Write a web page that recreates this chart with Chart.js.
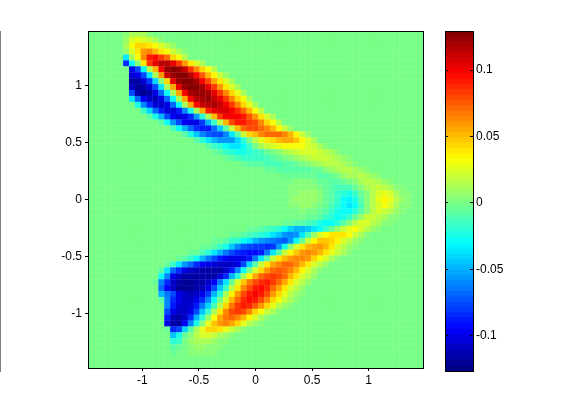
<!DOCTYPE html>
<html>
<head>
<meta charset="utf-8">
<title>heatmap</title>
<script src="https://cdn.jsdelivr.net/npm/chart.js@4/dist/chart.umd.min.js"></script>
<style>
html, body { margin: 0; background: #fff; }
canvas { position: absolute; left: 0; top: 0; }
</style>
</head>
<body>
<canvas id="mapChart" width="561" height="414"></canvas>
<canvas id="barChart" width="561" height="414"></canvas>
<script>
// tick labels
const axisTicks = [-1, -0.5, 0, 0.5, 1];
const colorTicks = [-0.1, -0.05, 0, 0.05, 0.1];

// value range of the colour bar
const colorMin = -0.1265;
const colorMax = 0.1295;

// grid
const gridSize = 57;
const axisEdge = 1.48;

// first filled column of each row, top row first
const rowStart = [6, 6, 6, 6, 6, 6, 7, 7, 7, 7, 7, 7, 8, 9, 10, 12, 14, 16, 18, 20, 21, 23, 26, 30, 33, 35, 34, 34, 34, 34, 35, 37, 32, 27, 24, 21, 19, 17, 15, 13, 12, 12, 11, 12, 12, 12, 13, 13, 13, 13, 13, 14, 14, 14, 14];

// cell values, in thousandths, everything else is 0
const rowValues = [
  [3, 10, 12, 10, 5],
  [8, 22, 28, 25, 20, 10, 4],
  [12, 30, 42, 45, 40, 32, 25, 15, 6],
  [8, 25, 40, 60, 65, 50, 40, 30, 20, 10, 3],
  [-35, 10, 30, 65, 90, 95, 85, 70, 45, 30, 15],
  [-85, -30, 5, 40, 85, 105, 115, 115, 105, 85, 60, 40, 25, 10],
  [-100, -75, -30, 15, 50, 100, 125, 128, 125, 110, 85, 65, 45, 30, 15],
  [-105, -100, -75, -35, 10, 60, 110, 125, 130, 128, 115, 95, 75, 50, 35, 20, 8],
  [-118, -118, -105, -80, -40, 5, 45, 105, 125, 130, 128, 118, 100, 80, 55, 40, 25, 10],
  [-110, -122, -118, -105, -75, -35, 10, 55, 105, 125, 130, 128, 118, 105, 85, 60, 40, 25, 10],
  [-75, -115, -120, -115, -100, -70, -30, 10, 55, 100, 120, 125, 125, 118, 105, 85, 65, 45, 28, 12],
  [-35, -70, -95, -110, -112, -100, -70, -30, 10, 55, 100, 115, 120, 122, 112, 105, 85, 65, 45, 30, 12],
  [-25, -60, -85, -105, -110, -100, -70, -30, 10, 55, 95, 110, 115, 118, 110, 100, 85, 65, 45, 28, 12],
  [-15, -40, -70, -90, -105, -105, -90, -60, -25, 10, 55, 90, 105, 108, 108, 100, 88, 70, 50, 32, 15],
  [-8, -25, -50, -75, -95, -105, -100, -85, -55, -20, 12, 50, 85, 98, 100, 100, 90, 75, 58, 40, 25, 10],
  [-10, -30, -55, -75, -95, -100, -100, -80, -50, -15, 15, 50, 78, 90, 92, 85, 78, 62, 45, 30, 15],
  [-12, -28, -50, -70, -85, -90, -88, -70, -45, -10, 20, 50, 70, 78, 78, 72, 65, 50, 35, 20, 8],
  [-10, -25, -45, -60, -72, -78, -75, -60, -35, -8, 20, 42, 50, 62, 70, 72, 70, 62, 50, 35, 20, 8],
  [-10, -20, -35, -48, -55, -58, -55, -42, -20, 0, 15, 28, 38, 45, 52, 55, 55, 48, 35, 25, 12],
  [-8, -15, -22, -30, -36, -38, -30, -15, 0, 10, 18, 22, 26, 30, 32, 32, 30, 25, 18, 10, 4],
  [-5, -10, -16, -22, -26, -25, -22, -18, -12, -6, 0, 5, 10, 14, 18, 22, 22, 22, 20, 16, 10, 5],
  [-5, -8, -12, -15, -16, -17, -16, -14, -10, -6, -2, 2, 6, 10, 14, 18, 19, 18, 15, 10, 6, 2],
  [-5, -7, -9, -10, -11, -12, -12, -10, -8, -6, -2, 2, 6, 10, 14, 16, 15, 12, 8, 4],
  [-4, -5, -7, -8, -9, -9, -9, -8, -6, -3, 2, 8, 12, 15, 15, 12, 8, 4],
  [-3, -4, -5, -6, -6, -6, -7, -7, -4, 0, 6, 10, 13, 15, 12, 8, 4],
  [2, 3, 2, 0, -3, -6, -8, -8, -6, -2, 4, 10, 14, 14, 12, 8, 4],
  [2, 4, 5, 5, 4, 1, -4, -9, -12, -13, -12, -6, 2, 10, 16, 18, 16, 10, 5, 2],
  [3, 5, 7, 8, 7, 3, -3, -9, -15, -22, -24, -18, -6, 5, 15, 24, 26, 22, 12, 5, 2],
  [3, 6, 8, 8, 6, 2, -3, -10, -18, -28, -32, -26, -10, 3, 14, 26, 35, 28, 14, 6, 2],
  [2, 4, 6, 6, 4, 0, -5, -12, -20, -30, -36, -28, -12, 3, 14, 24, 30, 24, 12, 5, 2],
  [1, 2, 1, -1, -5, -10, -16, -24, -30, -30, -22, -8, 5, 16, 22, 20, 14, 8, 3],
  [-3, -6, -10, -15, -22, -28, -26, -18, -4, 8, 18, 20, 16, 10, 5, 2],
  [-2, -3, -5, -7, -10, -13, -18, -24, -28, -28, -22, -10, 4, 16, 22, 22, 16, 10, 5, 2],
  [-3, -5, -8, -12, -15, -20, -28, -40, -48, -50, -46, -38, -30, -18, -4, 8, 18, 28, 30, 24, 15, 8, 3],
  [-3, -5, -8, -12, -18, -22, -25, -35, -45, -55, -62, -55, -35, -12, 8, 22, 32, 38, 40, 38, 30, 18, 10, 4],
  [-3, -6, -10, -15, -20, -28, -38, -48, -55, -60, -65, -70, -72, -58, -30, -5, 20, 35, 48, 48, 42, 35, 25, 15, 8, 3],
  [-3, -6, -10, -15, -25, -45, -60, -72, -78, -80, -82, -85, -80, -55, -25, 5, 25, 40, 50, 56, 58, 50, 38, 25, 15, 8, 3],
  [-3, -6, -12, -20, -35, -50, -65, -78, -85, -90, -92, -92, -88, -65, -35, -8, 18, 35, 48, 58, 62, 60, 52, 40, 28, 18, 10, 4],
  [-4, -10, -18, -30, -50, -65, -78, -88, -95, -100, -102, -100, -90, -65, -38, -10, 18, 38, 52, 60, 64, 64, 58, 45, 32, 22, 12, 5],
  [-5, -18, -35, -55, -70, -85, -95, -102, -105, -108, -108, -108, -100, -75, -40, -10, 18, 40, 55, 65, 70, 70, 65, 52, 38, 25, 15, 7],
  [-10, -35, -70, -85, -100, -110, -112, -115, -116, -116, -115, -110, -90, -60, -30, 0, 25, 45, 60, 72, 75, 72, 65, 50, 35, 22, 12, 5],
  [-30, -60, -100, -110, -116, -118, -118, -118, -118, -115, -105, -85, -50, -20, 10, 35, 55, 70, 80, 84, 80, 70, 52, 38, 25, 14, 6],
  [-5, -60, -85, -108, -118, -120, -120, -118, -116, -110, -95, -65, -35, -5, 25, 48, 68, 80, 88, 90, 85, 72, 55, 40, 25, 14, 6],
  [-70, -95, -110, -120, -122, -120, -118, -112, -100, -75, -45, -15, 15, 40, 62, 80, 90, 95, 88, 72, 55, 38, 25, 14, 6],
  [-50, -65, -75, -100, -110, -112, -110, -100, -80, -50, -20, 10, 35, 58, 78, 92, 98, 92, 78, 60, 42, 28, 16, 8, 3],
  [-10, -60, -85, -100, -108, -108, -100, -85, -60, -30, 0, 25, 50, 72, 88, 96, 92, 80, 62, 45, 30, 18, 10, 4],
  [-60, -90, -105, -108, -105, -90, -65, -40, -12, 15, 42, 68, 85, 92, 88, 75, 58, 42, 28, 16, 8, 3],
  [-75, -100, -110, -110, -100, -75, -45, -18, 10, 38, 62, 80, 85, 78, 62, 45, 30, 20, 10, 4],
  [-90, -112, -116, -108, -85, -50, -20, 8, 32, 55, 68, 72, 65, 50, 35, 22, 12, 5],
  [-100, -118, -115, -95, -60, -25, 5, 28, 48, 60, 62, 55, 42, 28, 16, 8, 3],
  [-3, -85, -75, -40, -8, 10, 28, 42, 42, 38, 28, 18, 10, 4],
  [-45, -25, -5, 5, 15, 25, 22, 18, 12, 7, 3],
  [-22, -15, -2, 6, 12, 12, 10, 7, 4, 2],
  [-8, -6, 1, 4, 6, 6, 5, 4, 2],
  [-3, -2, 1, 2, 3, 3, 3, 2]
];

// jet colormap, 64 steps like the colour bar
function jetColor(t) {
  const level = (Math.min(63, Math.floor(t * 64)) + 0.5) / 64;
  const ramp = c => Math.round(255 * Math.max(0, Math.min(1, 1.5 - Math.abs(4 * level - c))));
  return `rgb(${ramp(3)},${ramp(2)},${ramp(1)})`;
}
const valueColor = v => jetColor((v - colorMin) / (colorMax - colorMin));

// every cell of the grid as a scatter point
const cellPoints = [];
for (let row = 0; row < gridSize; row++) {
  for (let col = 0; col < gridSize; col++) {
    const start = rowStart[row];
    const cells = rowValues[row] || [];
    const raw = (start !== undefined && col >= start) ? (cells[col - start] || 0) : 0;
    const step = 2 * axisEdge / gridSize;
    cellPoints.push({
      x: -axisEdge + (col + 0.5) * step,
      y: axisEdge - (row + 0.5) * step,
      v: raw / 1000
    });
  }
}

const tickFont = { family: '"Liberation Sans", Arial, sans-serif', size: 12 };

// box around the plot
const boxBorder = {
  id: 'boxBorder',
  afterDraw(chart) {
    const a = chart.chartArea;
    const ctx = chart.ctx;
    ctx.save();
    ctx.strokeStyle = '#000';
    ctx.lineWidth = 1;
    ctx.strokeRect(Math.round(a.left) + 0.5, Math.round(a.top) + 0.5, Math.round(a.width), Math.round(a.height));
    ctx.restore();
  }
};

// 1. heat map
new Chart(document.getElementById('mapChart'), {
  type: 'scatter',
  data: {
    datasets: [{
      data: cellPoints,
      pointStyle: 'rect',
      pointRadius: 4.4,
      pointBorderWidth: 0,
      pointBackgroundColor: c => valueColor(c.raw.v),
      clip: 0
    }]
  },
  options: {
    responsive: false,
    animation: false,
    events: [],
    layout: { padding: { top: 31, right: 138 } },
    plugins: { legend: { display: false }, tooltip: { enabled: false } },
    scales: {
      x: {
        type: 'linear',
        min: -axisEdge,
        max: axisEdge,
        afterBuildTicks: s => { s.ticks = axisTicks.map(v => ({ value: v })); },
        afterFit: s => { s.height = 46; },
        grid: { drawOnChartArea: false, tickLength: 3, color: '#000' },
        border: { color: '#000' },
        ticks: { color: '#000', font: tickFont, padding: 2, maxRotation: 0, callback: v => String(v) }
      },
      y: {
        type: 'linear',
        min: -axisEdge,
        max: axisEdge,
        afterBuildTicks: s => { s.ticks = axisTicks.map(v => ({ value: v })); },
        afterFit: s => { s.width = 88; },
        grid: { drawOnChartArea: false, tickLength: 3, color: '#000' },
        border: { color: '#000' },
        ticks: { color: '#000', font: tickFont, padding: 3, callback: v => String(v) }
      }
    }
  },
  plugins: [boxBorder]
});

// 2. colour bar
const barLevels = [];
for (let i = 0; i < 64; i++) {
  barLevels.push({
    data: [[colorMin + (colorMax - colorMin) * i / 64, colorMin + (colorMax - colorMin) * (i + 1) / 64]],
    backgroundColor: jetColor((i + 0.5) / 64),
    borderWidth: 0,
    barPercentage: 1,
    categoryPercentage: 1,
    grouped: false
  });
}
new Chart(document.getElementById('barChart'), {
  type: 'bar',
  data: { labels: ['bar'], datasets: barLevels },
  options: {
    responsive: false,
    animation: false,
    events: [],
    layout: { padding: { left: 445, top: 31, bottom: 43 } },
    plugins: { legend: { display: false }, tooltip: { enabled: false } },
    scales: {
      x: { display: false },
      y: {
        position: 'right',
        min: colorMin,
        max: colorMax,
        afterBuildTicks: s => { s.ticks = colorTicks.map(v => ({ value: v })); },
        afterFit: s => { s.width = 88; },
        grid: { z: 1, color: '#000', drawTicks: false, borderDash: [3, 22, 3] },
        border: { color: '#000', dash: [3, 22, 3] },
        ticks: { color: '#000', font: tickFont, padding: 3, callback: v => String(v) }
      }
    }
  },
  plugins: [boxBorder]
});
</script>
</body>
</html>
